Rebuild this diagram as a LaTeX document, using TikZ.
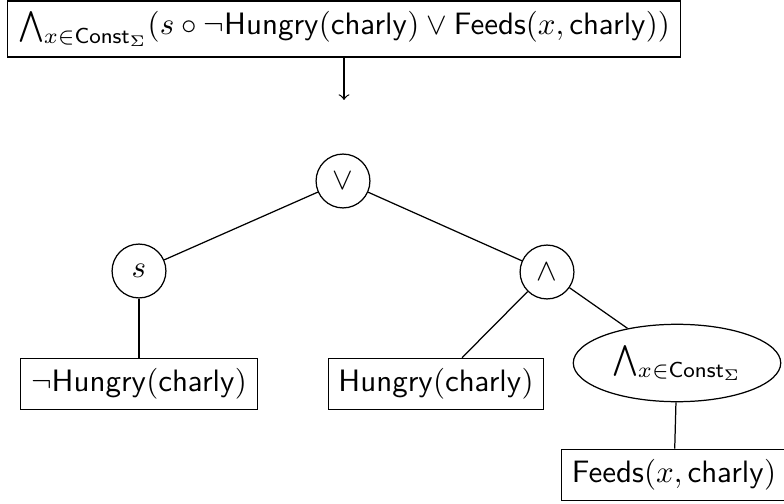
\documentclass[tikz,border=0pt]{standalone}
\usetikzlibrary{shapes.geometric}
\begin{document}
\begin{tikzpicture}[x=0.323pt,y=-0.323pt,
  box/.style={draw,rectangle,inner sep=3.3pt},
  op/.style={draw,circle,minimum size=17.4pt,inner sep=0pt},
  quant/.style={draw,ellipse,minimum width=67pt,minimum height=25pt,inner sep=0pt}]
  \useasboundingbox (0,0) rectangle (784,504);
  % input formula
  \node[box] (top) at (344,29)
    {$\bigwedge_{x\in\mathsf{Const}_\Sigma}(s\circ\neg\mathsf{Hungry}(\mathsf{charly})\vee\mathsf{Feeds}(x,\mathsf{charly}))$};
  \coordinate (arrowend) at (344,100);
  \draw[->] (top) -- (arrowend);
  % formula tree
  \node[op] (or) at (343,181) {$\vee$};
  \node[op] (s) at (139,271) {$s$};
  \node[op] (and) at (547,272) {$\wedge$};
  \node[box] (nh) at (139,384) {$\neg\mathsf{Hungry}(\mathsf{charly})$};
  \node[box] (h) at (436,384) {$\mathsf{Hungry}(\mathsf{charly})$};
  \node[quant] (all) at (677,363) {$\bigwedge_{x\in\mathsf{Const}_\Sigma}$};
  \node[box] (feeds) at (674,475) {$\mathsf{Feeds}(x,\mathsf{charly})$};
  \draw (or) -- (s);
  \draw (or) -- (and);
  \draw (s) -- (nh);
  \draw (and) -- (h);
  \draw (and) -- (all);
  \draw (all) -- (feeds);
\end{tikzpicture}
\end{document}
